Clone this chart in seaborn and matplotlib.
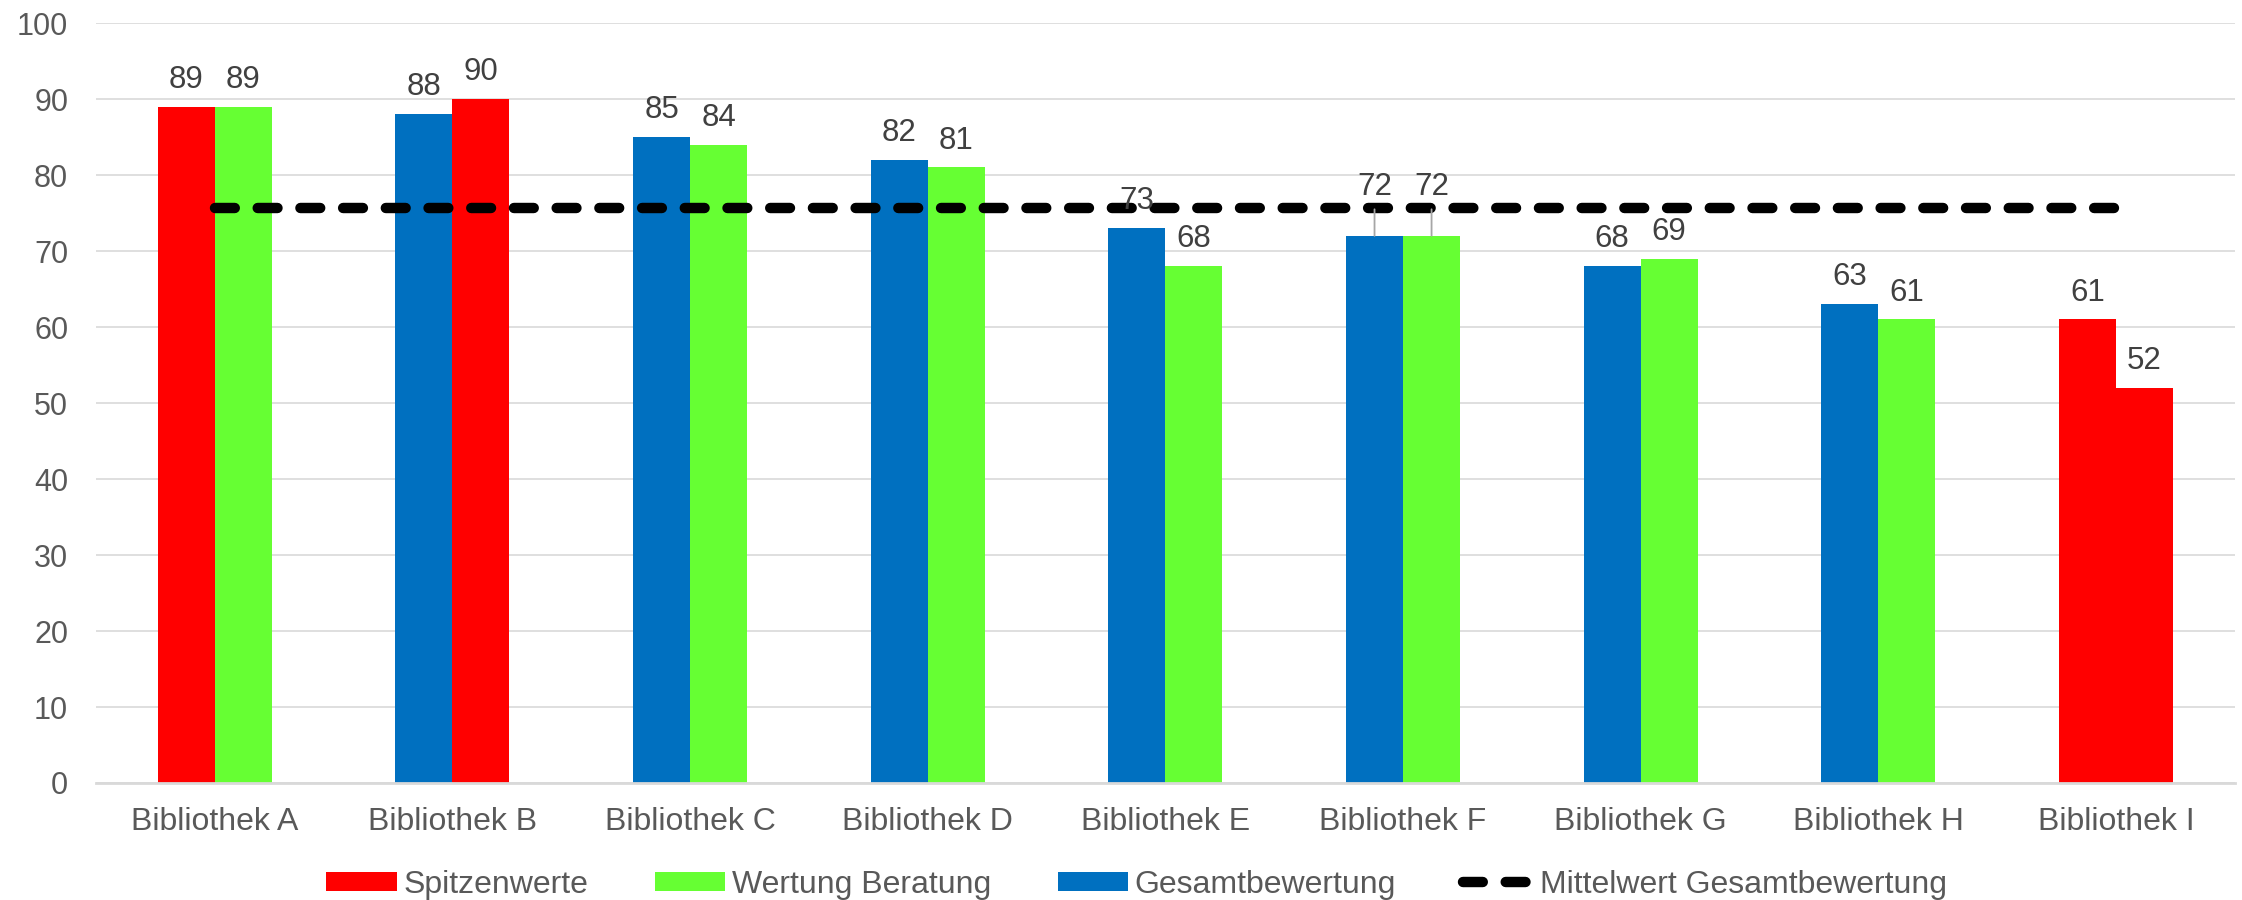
import numpy as np
import pandas as pd
import matplotlib
matplotlib.use("Agg")
import matplotlib.pyplot as plt
import seaborn as sns
from matplotlib.patches import Patch
from matplotlib.lines import Line2D

# ---- data ----
categories = ["Bibliothek A", "Bibliothek B", "Bibliothek C", "Bibliothek D",
              "Bibliothek E", "Bibliothek F", "Bibliothek G", "Bibliothek H",
              "Bibliothek I"]
gesamt = [89, 88, 85, 82, 73, 72, 68, 63, 61]
beratung = [89, 90, 84, 81, 68, 72, 69, 61, 52]
spitze_gesamt = [True, False, False, False, False, False, False, False, True]
spitze_beratung = [False, True, False, False, False, False, False, False, True]
raised_label_categories = ["Bibliothek F"]
series_names = ["Gesamtbewertung", "Wertung Beratung"]
legend_labels = ["Spitzenwerte", "Wertung Beratung", "Gesamtbewertung",
                 "Mittelwert Gesamtbewertung"]
yticks = [0, 10, 20, 30, 40, 50, 60, 70, 80, 90, 100]
mittelwert = float(np.mean(gesamt))

RED = "#FF0000"
GREEN = "#66FF33"
BLUE = "#0070C0"
GRID = "#D9D9D9"
TXT = "#595959"
LBL = "#404040"

df = pd.DataFrame({
    "Bibliothek": categories * 2,
    "Reihe": [series_names[0]] * len(categories) + [series_names[1]] * len(categories),
    "Wert": gesamt + beratung,
})

sns.set_style("white")
plt.rcParams["font.family"] = ["Liberation Sans", "DejaVu Sans"]

fig = plt.figure(figsize=(22.42, 9), dpi=100)
ax = fig.add_axes([0.0428, 0.13, 0.954, 0.8444])

sns.barplot(data=df, x="Bibliothek", y="Wert", hue="Reihe", hue_order=series_names,
            palette=[BLUE, GREEN], width=0.48, saturation=1, errorbar=None,
            legend=False, ax=ax, zorder=2)

flags = [spitze_gesamt, spitze_beratung]
for ci, cont in enumerate(ax.containers):
    for j, bar in enumerate(cont):
        bar.set_linewidth(0)
        if flags[ci][j]:
            bar.set_facecolor(RED)
        x = bar.get_x() + bar.get_width() / 2
        h = bar.get_height()
        raised = categories[j] in raised_label_categories
        if raised:
            ax.annotate(f"{h:.0f}", xy=(x, h), xytext=(0, 29.5), textcoords="offset points",
                        ha="center", va="baseline", fontsize=22.5, color=LBL, zorder=5,
                        arrowprops=dict(arrowstyle="-", color="#A6A6A6", lw=1.3,
                                        shrinkA=3, shrinkB=0))
        else:
            ax.annotate(f"{h:.0f}", xy=(x, h), xytext=(0, 13.5), textcoords="offset points",
                        ha="center", va="baseline", fontsize=22.5, color=LBL, zorder=5)

# mean line
xs = np.arange(len(categories))
ax.plot(xs, np.full(len(categories), mittelwert), color="black", lw=7.5,
        linestyle=(0, (1.9, 2.2)), dash_capstyle="round", zorder=4)

ax.set_ylim(0, 100)
ax.set_xlim(-0.5, len(categories) - 0.5)
ax.set_yticks(yticks)
ax.set_xlabel("")
ax.set_ylabel("")
ax.yaxis.grid(True, color=GRID, lw=1.2)
ax.set_axisbelow(True)
for s in ["left", "right", "top"]:
    ax.spines[s].set_visible(False)
ax.spines["bottom"].set_color(GRID)
ax.spines["bottom"].set_linewidth(2)
ax.tick_params(axis="both", length=0, colors=TXT)
ax.tick_params(axis="y", pad=20, labelsize=22)
ax.tick_params(axis="x", pad=17, labelsize=23)

handles = [
    Patch(facecolor=RED, edgecolor="none", label=legend_labels[0]),
    Patch(facecolor=GREEN, edgecolor="none", label=legend_labels[1]),
    Patch(facecolor=BLUE, edgecolor="none", label=legend_labels[2]),
    Line2D([], [], color="black", lw=7.5, linestyle=(0, (1.9, 2.2)),
           dash_capstyle="round", label=legend_labels[3]),
]
leg = fig.legend(handles=handles, loc="center", bbox_to_anchor=(0.507, 0.017), ncol=4,
                 frameon=False, fontsize=23, handlelength=2.2, handleheight=0.52,
                 handletextpad=0.2, columnspacing=2.1, labelcolor=TXT)

fig.savefig("out.png", dpi=100)
